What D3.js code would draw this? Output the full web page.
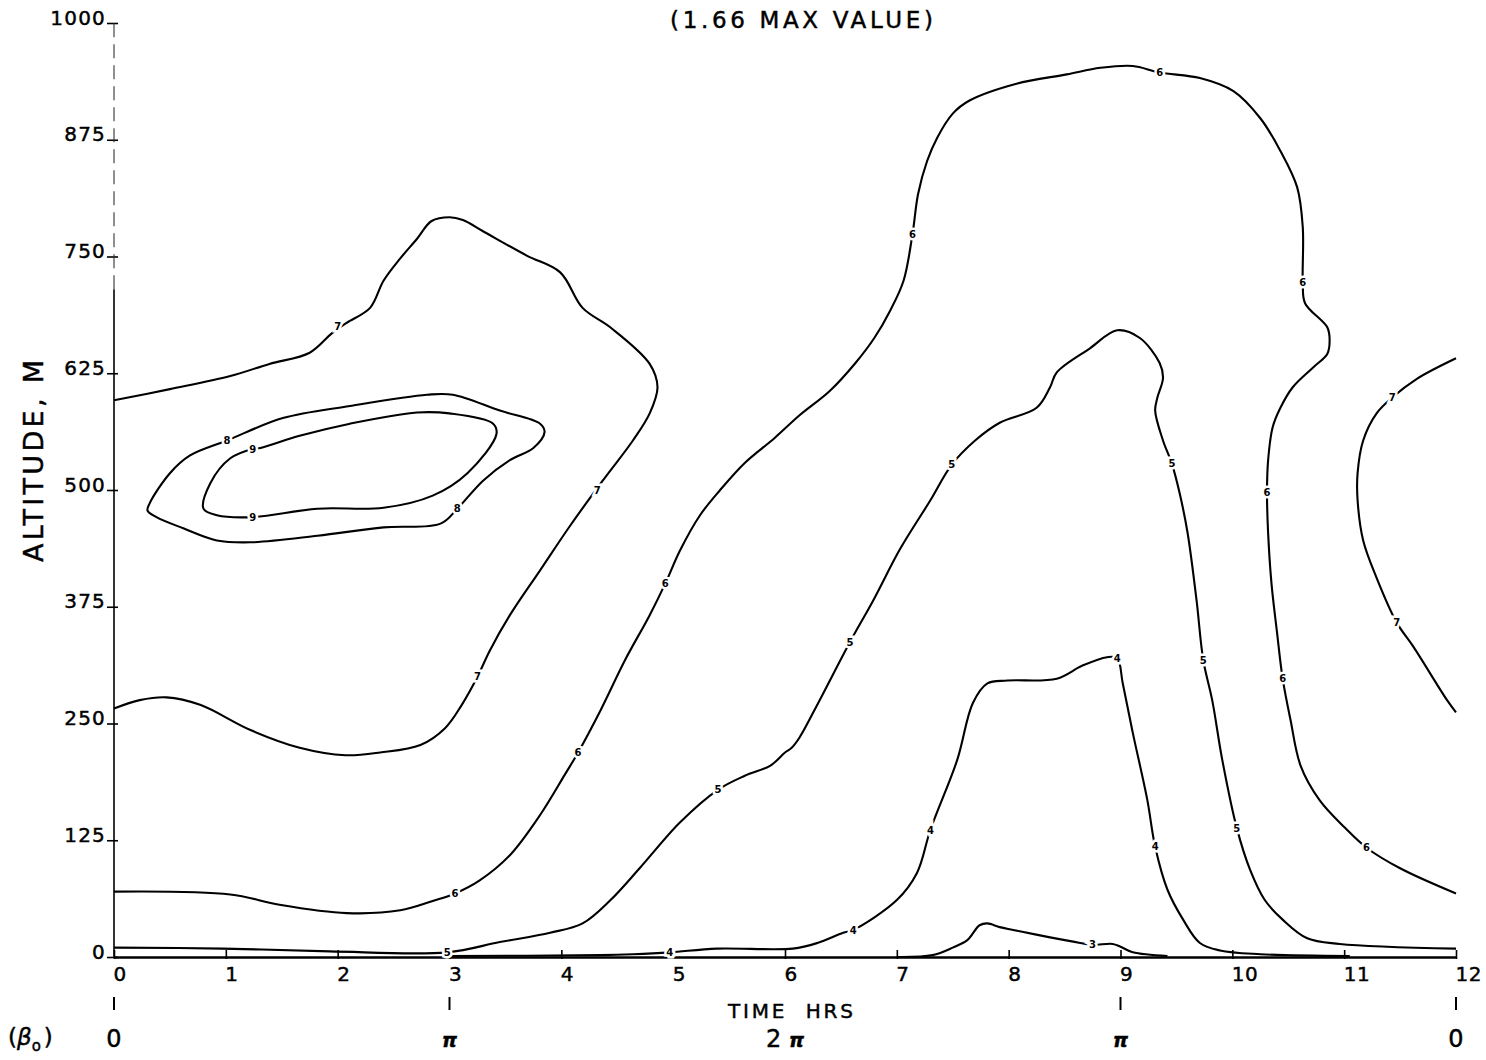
<!DOCTYPE html>
<html>
<head>
<meta charset="utf-8">
<script src="https://cdn.jsdelivr.net/npm/d3@7"></script>
<style>
  html, body { margin: 0; padding: 0; background: #fff; }
  svg { display: block; }
  text { font-family: "DejaVu Sans", "Liberation Sans", sans-serif; fill: #000; }
  .lettering { stroke: #000; stroke-width: 0.45px; }
</style>
</head>
<body>
<svg id="chart" width="1486" height="1060"></svg>
<script>
// ---- Isopleths of the normalised quantity: [time (hrs), altitude (m)] ----
const level7Left = [
  [0, 596], [0.50, 608], [1.04, 622], [1.39, 635], [1.75, 647], [1.95, 668], [2.08, 679],
  [2.29, 695], [2.41, 724], [2.56, 748], [2.71, 769], [2.84, 788], [3.00, 792], [3.12, 789],
  [3.30, 777], [3.69, 751], [3.99, 733], [4.19, 695], [4.44, 674], [4.79, 635], [4.86, 610],
  [4.79, 582], [4.64, 553], [4.37, 510], [4.08, 462], [3.81, 414], [3.54, 366], [3.36, 328],
  [3.25, 300], [3.11, 270], [2.96, 245], [2.74, 227], [2.38, 219], [2.07, 216], [1.66, 224],
  [1.22, 243], [0.77, 270], [0.47, 278], [0.23, 275], [0, 266]
];
const level8Loop = [
  [0.30, 478], [0.32, 486], [0.50, 518], [0.68, 537], [1.01, 553], [1.51, 577], [2.11, 590],
  [2.80, 602], [3.03, 602], [3.45, 585], [3.81, 571], [3.85, 562], [3.75, 545], [3.54, 532],
  [3.30, 510], [3.07, 480], [2.92, 464], [2.41, 460], [1.82, 451], [1.22, 444], [0.92, 446],
  [0.62, 459], [0.38, 471]
];
const level9Loop = [
  [1.24, 544], [1.04, 534], [0.86, 507], [0.80, 480], [0.92, 473], [1.24, 471], [1.82, 480],
  [2.41, 481], [2.85, 494], [3.16, 518], [3.42, 560], [3.39, 571], [3.00, 582], [2.71, 583],
  [2.11, 571], [1.66, 558], [1.31, 545]
];
const level6 = [
  [0, 70], [1.04, 67], [1.48, 56], [2.08, 47], [2.56, 50], [2.85, 60], [3.05, 68], [3.27, 82],
  [3.54, 109], [3.81, 152], [4.03, 195], [4.15, 219], [4.35, 264], [4.57, 318], [4.79, 366],
  [4.93, 400], [5.06, 435], [5.24, 473], [5.42, 500], [5.64, 529], [5.91, 556], [6.13, 580],
  [6.40, 606], [6.63, 636], [6.80, 663], [6.94, 692], [7.06, 724], [7.14, 774], [7.19, 817],
  [7.27, 852], [7.36, 877], [7.50, 903], [7.65, 917], [8.07, 935], [8.52, 945], [8.82, 952],
  [9.11, 954], [9.35, 947], [9.71, 941], [10.01, 927], [10.25, 898], [10.43, 863], [10.58, 824],
  [10.63, 781], [10.63, 722], [10.65, 700], [10.85, 674], [10.87, 660], [10.85, 646], [10.72, 631],
  [10.54, 610], [10.43, 588], [10.36, 567], [10.32, 532], [10.31, 497], [10.32, 454], [10.35, 400],
  [10.40, 347], [10.45, 298], [10.52, 254], [10.61, 205], [10.78, 168], [11.01, 138], [11.20, 117],
  [11.50, 95], [12, 68]
];
const level5 = [
  [0, 10], [0.97, 9], [1.93, 6], [2.98, 5], [3.45, 16], [3.90, 26], [4.19, 36], [4.44, 61],
  [4.70, 95], [5.06, 144], [5.40, 179], [5.64, 194], [5.87, 205], [6.00, 219], [6.06, 224],
  [6.13, 235], [6.31, 275], [6.58, 337], [6.79, 382], [7.03, 437], [7.30, 489], [7.49, 527],
  [7.70, 553], [7.92, 572], [8.25, 588], [8.37, 610], [8.43, 626], [8.73, 652], [8.97, 671],
  [9.17, 663], [9.35, 636], [9.38, 620], [9.33, 599], [9.31, 585], [9.38, 553], [9.46, 528],
  [9.53, 496], [9.60, 454], [9.68, 382], [9.74, 318], [9.82, 275], [9.91, 211], [10.04, 138],
  [10.16, 93], [10.29, 61], [10.45, 40], [10.67, 20], [10.96, 14], [12, 9]
];
const level4 = [
  [2.98, 1], [4.35, 2], [4.64, 3], [4.97, 5], [5.39, 9], [6.07, 9], [6.29, 15], [6.52, 26],
  [6.61, 29], [7.00, 61], [7.18, 90], [7.30, 136], [7.54, 211], [7.68, 272], [7.81, 293],
  [7.99, 296], [8.43, 298], [8.66, 312], [8.88, 321], [8.97, 320], [9.02, 293], [9.11, 240],
  [9.24, 168], [9.31, 118], [9.42, 72], [9.56, 40], [9.71, 15], [9.89, 7], [10.25, 3], [11.05, 1]
];
const level3 = [
  [7.00, 0], [7.32, 2], [7.50, 10], [7.63, 18], [7.74, 34], [7.81, 36], [7.92, 32], [8.04, 29],
  [8.37, 21], [8.64, 15], [8.75, 13], [8.93, 14], [9.00, 11], [9.11, 5], [9.42, 1]
];
const level7Right = [
  [12, 641], [11.65, 619], [11.43, 599], [11.29, 582], [11.17, 553], [11.12, 518], [11.12, 489],
  [11.17, 446], [11.29, 406], [11.47, 358], [11.62, 332], [11.92, 275], [12, 262]
];

// Inline contour labels: [value, time (hrs), altitude (m)]
const contourLabels = [
  [7, 2.00, 675], [7, 4.32, 500], [7, 3.25, 300],
  [8, 1.01, 553], [8, 3.07, 480],
  [9, 1.24, 544], [9, 1.24, 471],
  [6, 3.05, 68], [6, 4.15, 219], [6, 4.93, 400], [6, 7.14, 774], [6, 9.35, 947],
  [6, 10.63, 722], [6, 10.31, 497], [6, 10.45, 298], [6, 11.20, 117],
  [5, 2.98, 5], [5, 5.40, 179], [5, 6.58, 337], [5, 7.49, 527], [5, 9.46, 528],
  [5, 9.74, 318], [5, 10.04, 138],
  [4, 4.97, 5], [4, 6.61, 29], [4, 7.30, 136], [4, 8.97, 320], [4, 9.31, 118],
  [3, 8.75, 13],
  [7, 11.43, 599], [7, 11.47, 358]
];

// Axis ticks
const hourTicks = [0, 1, 2, 3, 4, 5, 6, 7, 8, 9, 10, 11, 12];
const altitudeTicks = [0, 125, 250, 375, 500, 625, 750, 875, 1000];
const phaseMarks = [0, 3, 9, 12];
const phaseLabels = [[0, "0"], [3, "π"], [6, "2π"], [9, "π"], [12, "0"]];

const titleText = "(1.66 MAX VALUE)";
const xTitle = "TIME  HRS";
const yTitle = "ALTITUDE, M";

// ---- Drawing ----
const svg = d3.select("#chart");
const x = d3.scaleLinear().domain([0, 12]).range([114, 1456]);
const y = d3.scaleLinear().domain([0, 1000]).range([957, 23]);

const contours = [
  { pts: level7Left, closed: false },
  { pts: level8Loop, closed: true },
  { pts: level9Loop, closed: true },
  { pts: level6, closed: false },
  { pts: level5, closed: false },
  { pts: level4, closed: false },
  { pts: level3, closed: false },
  { pts: level7Right, closed: false }
];

const openLine = d3.line().x(d => x(d[0])).y(d => y(d[1])).curve(d3.curveCatmullRom.alpha(0.5));
const closedLine = d3.line().x(d => x(d[0])).y(d => y(d[1])).curve(d3.curveCatmullRomClosed.alpha(0.5));

svg.append("g").attr("class", "contours")
  .selectAll("path").data(contours).join("path")
  .attr("d", c => (c.closed ? closedLine : openLine)(c.pts))
  .attr("fill", "none")
  .attr("stroke", "#000")
  .attr("stroke-width", 2.1)
  .attr("stroke-linejoin", "round");

// Y axis
const yAxis = svg.append("g").attr("transform", `translate(${x(0)},0)`)
  .call(d3.axisLeft(y).tickValues(altitudeTicks).tickSize(0).tickPadding(8).tickFormat(d3.format("d")));
yAxis.select(".domain").remove();
yAxis.selectAll(".tick text")
  .attr("class", "lettering")
  .attr("dy", "0.05em")
  .attr("font-size", 20)
  .attr("letter-spacing", "1.2px")
  .attr("font-family", "DejaVu Sans, sans-serif");
yAxis.selectAll(".tick").append("line")
  .attr("x1", -7).attr("x2", 4).attr("stroke", "#000").attr("stroke-width", 1.6);
// axis spine: solid in the lower part, broken towards the top
svg.append("line")
  .attr("x1", x(0)).attr("x2", x(0)).attr("y1", y(0)).attr("y2", y(715))
  .attr("stroke", "#000").attr("stroke-width", 1.6);
svg.append("line")
  .attr("x1", x(0)).attr("x2", x(0)).attr("y1", y(715)).attr("y2", y(1000))
  .attr("stroke", "#333").attr("stroke-width", 1.1).attr("stroke-dasharray", "14,7");

// X axis
const xAxis = svg.append("g").attr("transform", `translate(0,${y(0)})`)
  .call(d3.axisBottom(x).tickValues(hourTicks).tickSize(0).tickPadding(10).tickFormat(d3.format("d")));
xAxis.select(".domain").attr("stroke", "#000").attr("stroke-width", 2.4);
xAxis.selectAll(".tick text")
  .attr("class", "lettering")
  .attr("text-anchor", "start")
  .attr("x", -1)
  .attr("font-size", 20)
  .attr("letter-spacing", "0.5px")
  .attr("font-family", "DejaVu Sans, sans-serif");
xAxis.selectAll(".tick").append("line")
  .attr("y1", -7).attr("y2", 2).attr("stroke", "#000").attr("stroke-width", 1.6);

// Contour value labels, breaking the line behind them
svg.append("g").attr("class", "contour-labels")
  .selectAll("text").data(contourLabels).join("text")
  .attr("x", d => x(d[1]))
  .attr("y", d => y(d[2]))
  .attr("dy", "0.36em")
  .attr("text-anchor", "middle")
  .attr("font-size", 10)
  .attr("font-weight", "bold")
  .attr("stroke", "#fff")
  .attr("stroke-width", 5)
  .attr("paint-order", "stroke")
  .text(d => d[0]);

// Phase (beta_0) marks under the time axis
svg.append("g").selectAll("line").data(phaseMarks).join("line")
  .attr("x1", d => x(d)).attr("x2", d => x(d))
  .attr("y1", 997).attr("y2", 1010)
  .attr("stroke", "#000").attr("stroke-width", 2);

const phaseG = svg.append("g").selectAll("text").data(phaseLabels).join("text")
  .attr("class", "lettering")
  .attr("x", d => x(d[0]))
  .attr("y", 1047)
  .attr("text-anchor", "middle")
  .attr("font-size", 24);
phaseG.each(function(d) {
  const t = d3.select(this);
  const s = d[1];
  if (s.includes("π")) {
    const pre = s.replace("π", "");
    if (pre) t.append("tspan").text(pre + " ");
    t.append("tspan").attr("font-style", "italic").attr("font-weight", "bold")
      .attr("font-size", 19).text("π");
  } else {
    t.text(s);
  }
});

// (beta_0) row label
const beta = svg.append("text").attr("class", "lettering")
  .attr("x", 8).attr("y", 1045).attr("font-size", 23);
beta.append("tspan").text("(");
beta.append("tspan").attr("font-style", "italic").text("β");
beta.append("tspan").attr("font-size", 15).attr("dy", 6).text("o");
beta.append("tspan").attr("dy", -6).attr("dx", 3).text(")");

// Axis titles
svg.append("text")
  .attr("class", "lettering")
  .attr("x", 728).attr("y", 1018)
  .attr("font-size", 20)
  .attr("textLength", 125).attr("lengthAdjust", "spacing")
  .style("white-space", "pre")
  .text(xTitle);

svg.append("text")
  .attr("class", "lettering")
  .attr("transform", `translate(43,562) rotate(-90)`)
  .attr("font-size", 27)
  .attr("textLength", 202).attr("lengthAdjust", "spacing")
  .text(yTitle);

svg.append("text")
  .attr("class", "lettering")
  .attr("x", 670).attr("y", 28)
  .attr("font-size", 23)
  .attr("textLength", 263).attr("lengthAdjust", "spacing")
  .style("white-space", "pre")
  .text(titleText);
</script>
</body>
</html>
